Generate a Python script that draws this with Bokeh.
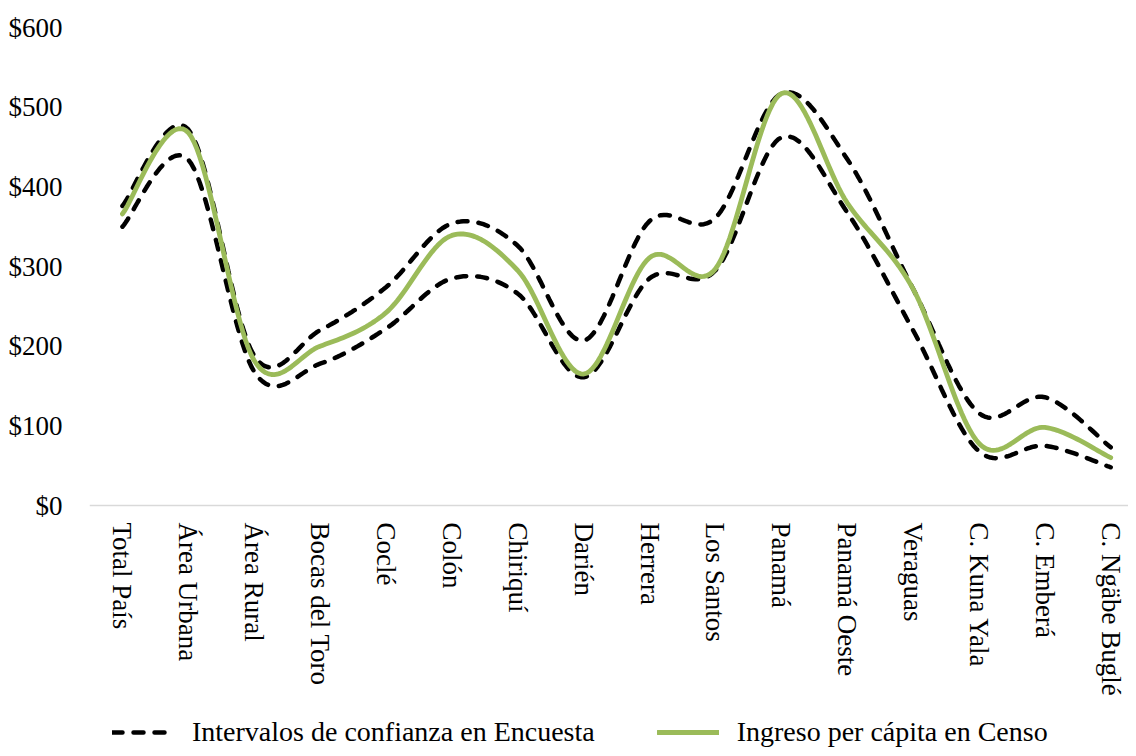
import numpy as np
from bokeh.plotting import figure
from bokeh.models import Legend, LegendItem, FixedTicker, Range1d
from bokeh.embed import file_html
from bokeh.resources import INLINE

categories = ["Total País", "Área Urbana", "Área Rural", "Bocas del Toro", "Coclé",
              "Colón", "Chiriquí", "Darién", "Herrera", "Los Santos", "Panamá",
              "Panamá Oeste", "Veraguas", "C. Kuna Yala", "C. Emberá", "C. Ngäbe Buglé"]
upper = [376, 472, 188, 220, 274, 354, 326, 207, 357, 361, 517, 435, 272, 116, 136, 73]
censo = [366, 468, 182, 200, 242, 339, 295, 165, 311, 297, 517, 380, 272, 78, 98, 60]
lower = [350, 434, 168, 178, 222, 285, 266, 161, 285, 295, 462, 368, 220, 68, 75, 48]
y_ticks = [0, 100, 200, 300, 400, 500, 600]
y_tick_labels = ["$0", "$100", "$200", "$300", "$400", "$500", "$600"]

FONT = "Liberation Serif"


def smooth(vals, n=24):
    """Catmull-Rom style smoothing (like a spreadsheet's smoothed line)."""
    x = np.arange(len(vals), dtype=float)
    y = np.asarray(vals, dtype=float)
    P = np.column_stack([x, y])
    ext = np.vstack([P[0], P, P[-1]])
    xs, ys = [], []
    t = np.linspace(0, 1, n)
    for i in range(len(P) - 1):
        p0, p1, p2, p3 = ext[i], ext[i + 1], ext[i + 2], ext[i + 3]
        c1 = p1 + (p2 - p0) / 6.0
        c2 = p2 - (p3 - p1) / 6.0
        b = ((1 - t) ** 3)[:, None] * p1 + (3 * (1 - t) ** 2 * t)[:, None] * c1 + \
            (3 * (1 - t) * t ** 2)[:, None] * c2 + (t ** 3)[:, None] * p2
        if i > 0:
            b = b[1:]
        xs.extend(b[:, 0]); ys.extend(b[:, 1])
    return xs, ys


# frame extends to the bottom of the canvas; y=0 sits 243 px above the bottom
p = figure(width=1128, height=748, output_backend="svg", toolbar_location=None,
           x_range=Range1d(-0.5, 15.27), y_range=Range1d(-305, 600),
           min_border_left=89, min_border_right=0, min_border_top=27, min_border_bottom=0)
p.outline_line_color = None
p.xgrid.grid_line_color = None
p.ygrid.grid_line_color = None
p.background_fill_color = "white"

ux, uy = smooth(upper)
lx, ly = smooth(lower)
cx, cy = smooth(censo)
r_up = p.line(ux, uy, line_color="black", line_width=4.5, line_dash="10 11", line_cap="round")
r_lo = p.line(lx, ly, line_color="black", line_width=4.5, line_dash="10 11", line_cap="round")
r_c = p.line(cx, cy, line_color="#9BBB59", line_width=4.8, line_cap="round", line_join="round")

# x axis drawn at y = 0 inside the frame
xa = p.xaxis[0]
xa.fixed_location = 0
xa.ticker = FixedTicker(ticks=list(range(len(categories))))
xa.major_label_overrides = {i: c for i, c in enumerate(categories)}
xa.major_label_orientation = "vertical"
xa.major_tick_line_color = None
xa.minor_tick_line_color = None
xa.major_tick_out = 0
xa.minor_tick_out = 0
xa.major_tick_in = 0
xa.axis_line_color = "#D9D9D9"
xa.axis_line_width = 1.5
xa.major_label_text_font = FONT
xa.major_label_text_font_size = "27px"
xa.major_label_text_color = "#000000"
xa.major_label_standoff = 17

ya = p.yaxis[0]
ya.ticker = FixedTicker(ticks=y_ticks)
ya.major_label_overrides = {v: l for v, l in zip(y_ticks, y_tick_labels)}
ya.major_tick_line_color = None
ya.minor_tick_line_color = None
ya.major_tick_out = 0
ya.minor_tick_out = 0
ya.axis_line_color = None
ya.major_label_text_font = FONT
ya.major_label_text_font_size = "27px"
ya.major_label_text_color = "#000000"
ya.major_label_standoff = 27

legend = Legend(items=[
    LegendItem(label="Intervalos de confianza en Encuesta", renderers=[r_up]),
    LegendItem(label="Ingreso per cápita en Censo", renderers=[r_c]),
], orientation="horizontal", location=(23, 0))
legend.label_text_font = FONT
legend.label_text_font_size = "28px"
legend.label_text_color = "#000000"
legend.glyph_width = 62
legend.label_standoff = 18
legend.spacing = 62
legend.border_line_color = None
legend.background_fill_alpha = 0
legend.margin = 0
legend.padding = 0
p.add_layout(legend, "center")

open("out.html", "w").write(file_html(p, INLINE))
